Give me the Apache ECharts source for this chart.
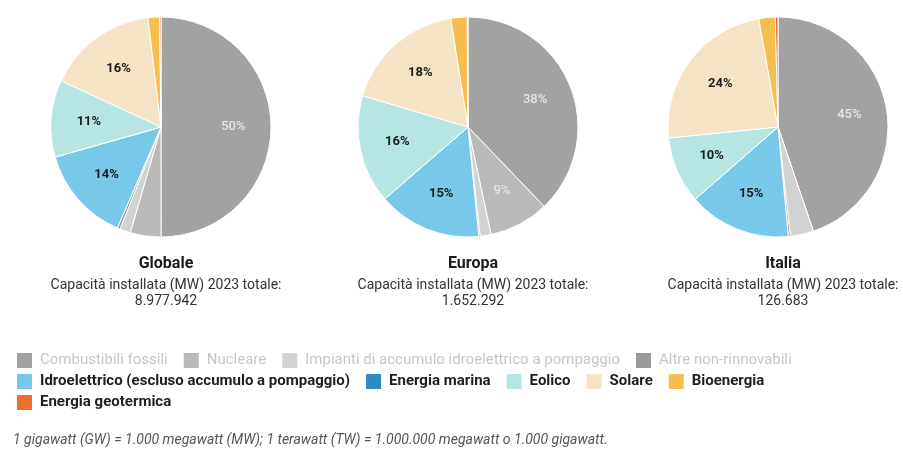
<!DOCTYPE html>
<html>
<head>
<meta charset="utf-8">
<script src="https://cdn.jsdelivr.net/npm/echarts@6/dist/echarts.min.js"></script>
<style>
html,body{margin:0;padding:0;background:#fff;}
#chart{width:903px;height:450px;}
</style>
</head>
<body>
<div id="chart"></div>
<script>
// Categories (legend order = slice order, clockwise from 12 o'clock)
const categories = [
  'Combustibili fossili',
  'Nucleare',
  'Impianti di accumulo idroelettrico a pompaggio',
  'Altre non-rinnovabili',
  'Idroelettrico (escluso accumulo a pompaggio)',
  'Energia marina',
  'Eolico',
  'Solare',
  'Bioenergia',
  'Energia geotermica'
];
// Shares of installed capacity (%)
const globale = [50.0, 4.5, 1.6, 0.4, 14.1, 0.01, 11.3, 16.2, 1.7, 0.2];
const europa  = [37.8, 8.8, 1.6, 0.2, 15.2, 0.02, 15.9, 17.9, 2.4, 0.1];
const italia  = [44.8, 0,   3.4, 0.3, 15.1, 0,    9.8, 23.8, 2.4, 0.4];
const regions = ['Globale', 'Europa', 'Italia'];
const totals  = ['8.977.942', '1.652.292', '126.683'];
const subtitle = 'Capacità installata (MW) 2023 totale:';
const footnote = '1 gigawatt (GW) = 1.000 megawatt (MW); 1 terawatt (TW) = 1.000.000 megawatt o 1.000 gigawatt.';

const colors = ['#a2a2a2', '#b9b9b9', '#d2d2d2', '#9a9a9a', '#78c9e9', '#2e8bc0', '#b6e6e3', '#f4e3c4', '#f6bd4f', '#ef6e2c'];
const darkLabel = [false, false, false, false, true, true, true, true, true, true];

const values = [globale, europa, italia];
const centersX = [161, 468, 778];
const centerY = 127;
const R = 110;

const series = [];
values.forEach((vals, i) => {
  series.push({
    type: 'pie',
    radius: [0, R],
    center: [centersX[i], centerY],
    startAngle: 90,
    clockwise: true,
    data: categories.map((c, k) => ({ name: c, value: vals[k], itemStyle: { color: colors[k] } })),
    itemStyle: { borderColor: '#ffffff', borderWidth: 1 },
    label: { show: false },
    labelLine: { show: false },
    emphasis: { disabled: true },
    silent: true,
    animation: false
  });
});
values.forEach((vals, i) => {
  series.push({
    type: 'pie',
    radius: [0, R * 1.26],
    center: [centersX[i], centerY],
    startAngle: 90,
    clockwise: true,
    data: categories.map((c, k) => ({
      name: c, value: vals[k],
      label: darkLabel[k] ? { color: '#1d1d1d', fontWeight: 'bold' } : { color: '#e4e4e4', fontWeight: 500 }
    })),
    itemStyle: { color: 'rgba(0,0,0,0)', borderWidth: 0 },
    label: {
      show: true,
      position: 'inside',
      fontFamily: 'Roboto',
      fontSize: 13,
      formatter: p => (p.percent >= 5 ? Math.round(p.percent) + '%' : '')
    },
    labelLine: { show: false },
    emphasis: { disabled: true },
    silent: true,
    z: 3,
    animation: false
  });
});

const titles = regions.map((r, i) => ({
  text: r,
  subtext: subtitle + '\n' + totals[i],
  left: centersX[i],
  top: 251,
  textAlign: 'center',
  itemGap: 5,
  textStyle: { fontFamily: 'Roboto', fontWeight: 'bold', fontSize: 16, color: '#1a1a1a' },
  subtextStyle: { fontFamily: 'Roboto', fontSize: 14, color: '#333', lineHeight: 16, align: 'center' }
}));
titles.push({
  text: footnote,
  left: 8,
  top: 428,
  textStyle: { fontFamily: 'Roboto', fontStyle: 'italic', fontWeight: 'normal', fontSize: 14, color: '#555' }
});

const legendRows = [categories.slice(0, 4), categories.slice(4, 9), categories.slice(9)];
const legendTops = [346, 367, 388];
const legends = legendRows.map((row, r) => ({
  left: 10,
  top: legendTops[r],
  orient: 'horizontal',
  itemWidth: 17,
  itemHeight: 17,
  itemGap: 14,
  icon: 'rect',
  selectedMode: false,
  data: row.map(n => ({
    name: n,
    textStyle: r === 0
      ? { color: '#c6c6c6', fontWeight: 'normal', fontSize: 15 }
      : { color: '#1f1f1f', fontWeight: 'bold', fontSize: 15 }
  })),
  textStyle: { fontFamily: 'Roboto', fontSize: 15, padding: [0, 0, 0, 2] }
}));

const chart = echarts.init(document.getElementById('chart'), null, { renderer: 'canvas' });
chart.setOption({
  backgroundColor: '#ffffff',
  animation: false,
  title: titles,
  legend: legends,
  series: series
});
</script>
</body>
</html>
